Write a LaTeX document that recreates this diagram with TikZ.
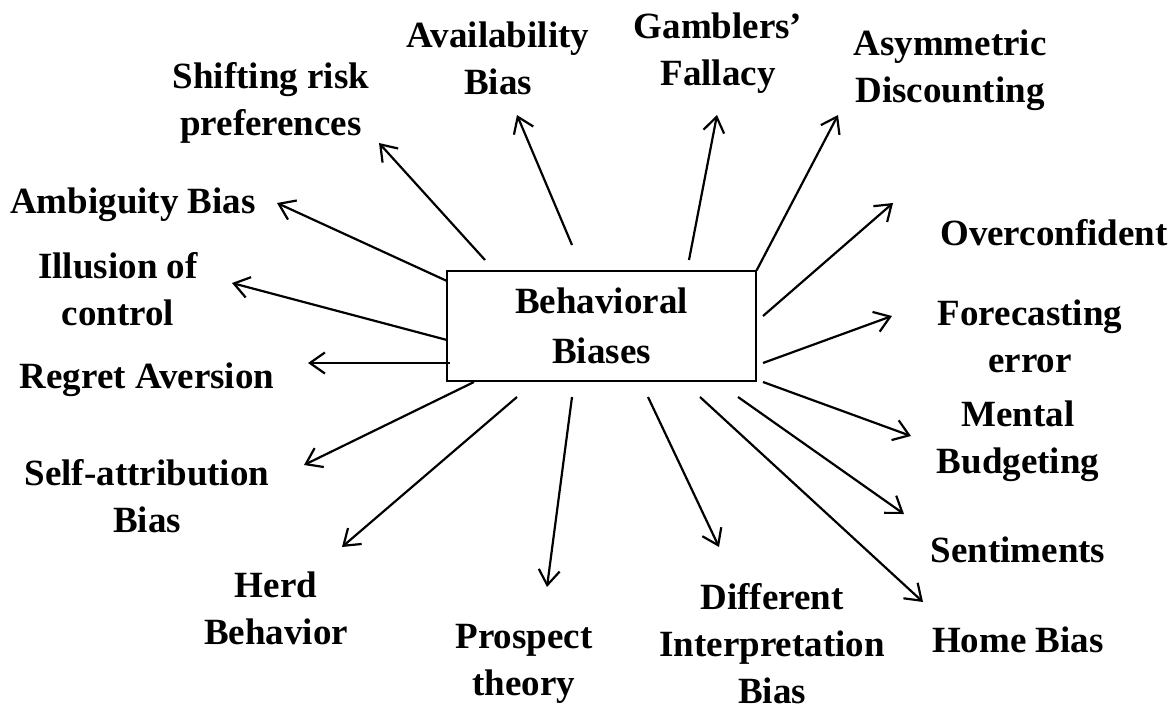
\documentclass[tikz,border=0pt]{standalone}
\usepackage{fontspec}
\setmainfont{Liberation Serif}
\usetikzlibrary{arrows.meta}
\begin{document}
\begin{tikzpicture}[x=1pt,y=-1pt,
  lbl/.style={align=center, inner sep=0pt, anchor=base, font=\fontsize{37}{47}\selectfont\bfseries},
  arr/.style={line width=2.2pt, -{Straight Barb[length=15pt,width=21pt]}},
  mainbox/.style={draw, line width=1.2pt, minimum width=309pt, minimum height=110pt, inner sep=0pt, align=center, font=\fontsize{37}{50}\selectfont\bfseries}]
\useasboundingbox (0,0) rectangle (1175,710);

% central box
\node[mainbox] (bb) at (601.5,326) {Behavioral\\Biases};

% labels (anchor = baseline of the last line)
\node[lbl] (av) at (498,94) {Availability\\Bias};
\node[lbl] (sh) at (271,135) {Shifting risk\\preferences};
\node[lbl] (ga) at (718,85) {Gamblers’\\Fallacy};
\node[lbl] (as) at (950,102) {Asymmetric\\Discounting};
\node[lbl] (ov) at (1054,245) {Overconfident};
\node[lbl] (fo) at (1030,372) {Forecasting\\error};
\node[lbl] (me) at (1018,473) {Mental\\Budgeting};
\node[lbl] (se) at (1018,562) {Sentiments};
\node[lbl] (ho) at (1018,652) {Home Bias};
\node[lbl] (di) at (772,703) {Different\\Interpretation\\Bias};
\node[lbl] (pr) at (524,695) {Prospect\\theory};
\node[lbl] (he) at (276,644) {Herd\\Behavior};
\node[lbl] (sa) at (147,532) {Self-attribution\\Bias};
\node[lbl] (re) at (147,388) {Regret Aversion};
\node[lbl] (il) at (118,325) {Illusion of\\control};
\node[lbl] (am) at (133,213) {Ambiguity Bias};

% arrow start points near the box
\coordinate (s-sh) at (485,260);
\coordinate (s-av) at (572,245);
\coordinate (s-ga) at (689,260);
\coordinate (s-as) at (bb.north east);
\coordinate (s-ov) at (763,316);
\coordinate (s-fo) at (763,363);
\coordinate (s-me) at (763,382);
\coordinate (s-se) at (738,397);
\coordinate (s-ho) at (700,397);
\coordinate (s-di) at (648,397);
\coordinate (s-pr) at (572,397);
\coordinate (s-he) at (517,397);
\coordinate (s-sa) at (474,382);
\coordinate (s-re) at (450,363);
\coordinate (s-il) at (447,340);
\coordinate (s-am) at (447,281);

% arrow tips near the labels
\coordinate (t-sh) at (379,143);
\coordinate (t-av) at (517,115);
\coordinate (t-ga) at (717,115);
\coordinate (t-as) at (838,115);
\coordinate (t-ov) at (893,203);
\coordinate (t-fo) at (892,316);
\coordinate (t-me) at (911,436);
\coordinate (t-se) at (904,514);
\coordinate (t-ho) at (923,602);
\coordinate (t-di) at (719,547);
\coordinate (t-pr) at (547,587);
\coordinate (t-he) at (342,547);
\coordinate (t-sa) at (304,465);
\coordinate (t-re) at (308,363);
\coordinate (t-il) at (232,283);
\coordinate (t-am) at (277,203);

\foreach \k in {sh,av,ga,as,ov,fo,me,se,ho,di,pr,he,sa,re,il,am}
  \draw[arr] (s-\k) -- (t-\k);
\end{tikzpicture}
\end{document}
